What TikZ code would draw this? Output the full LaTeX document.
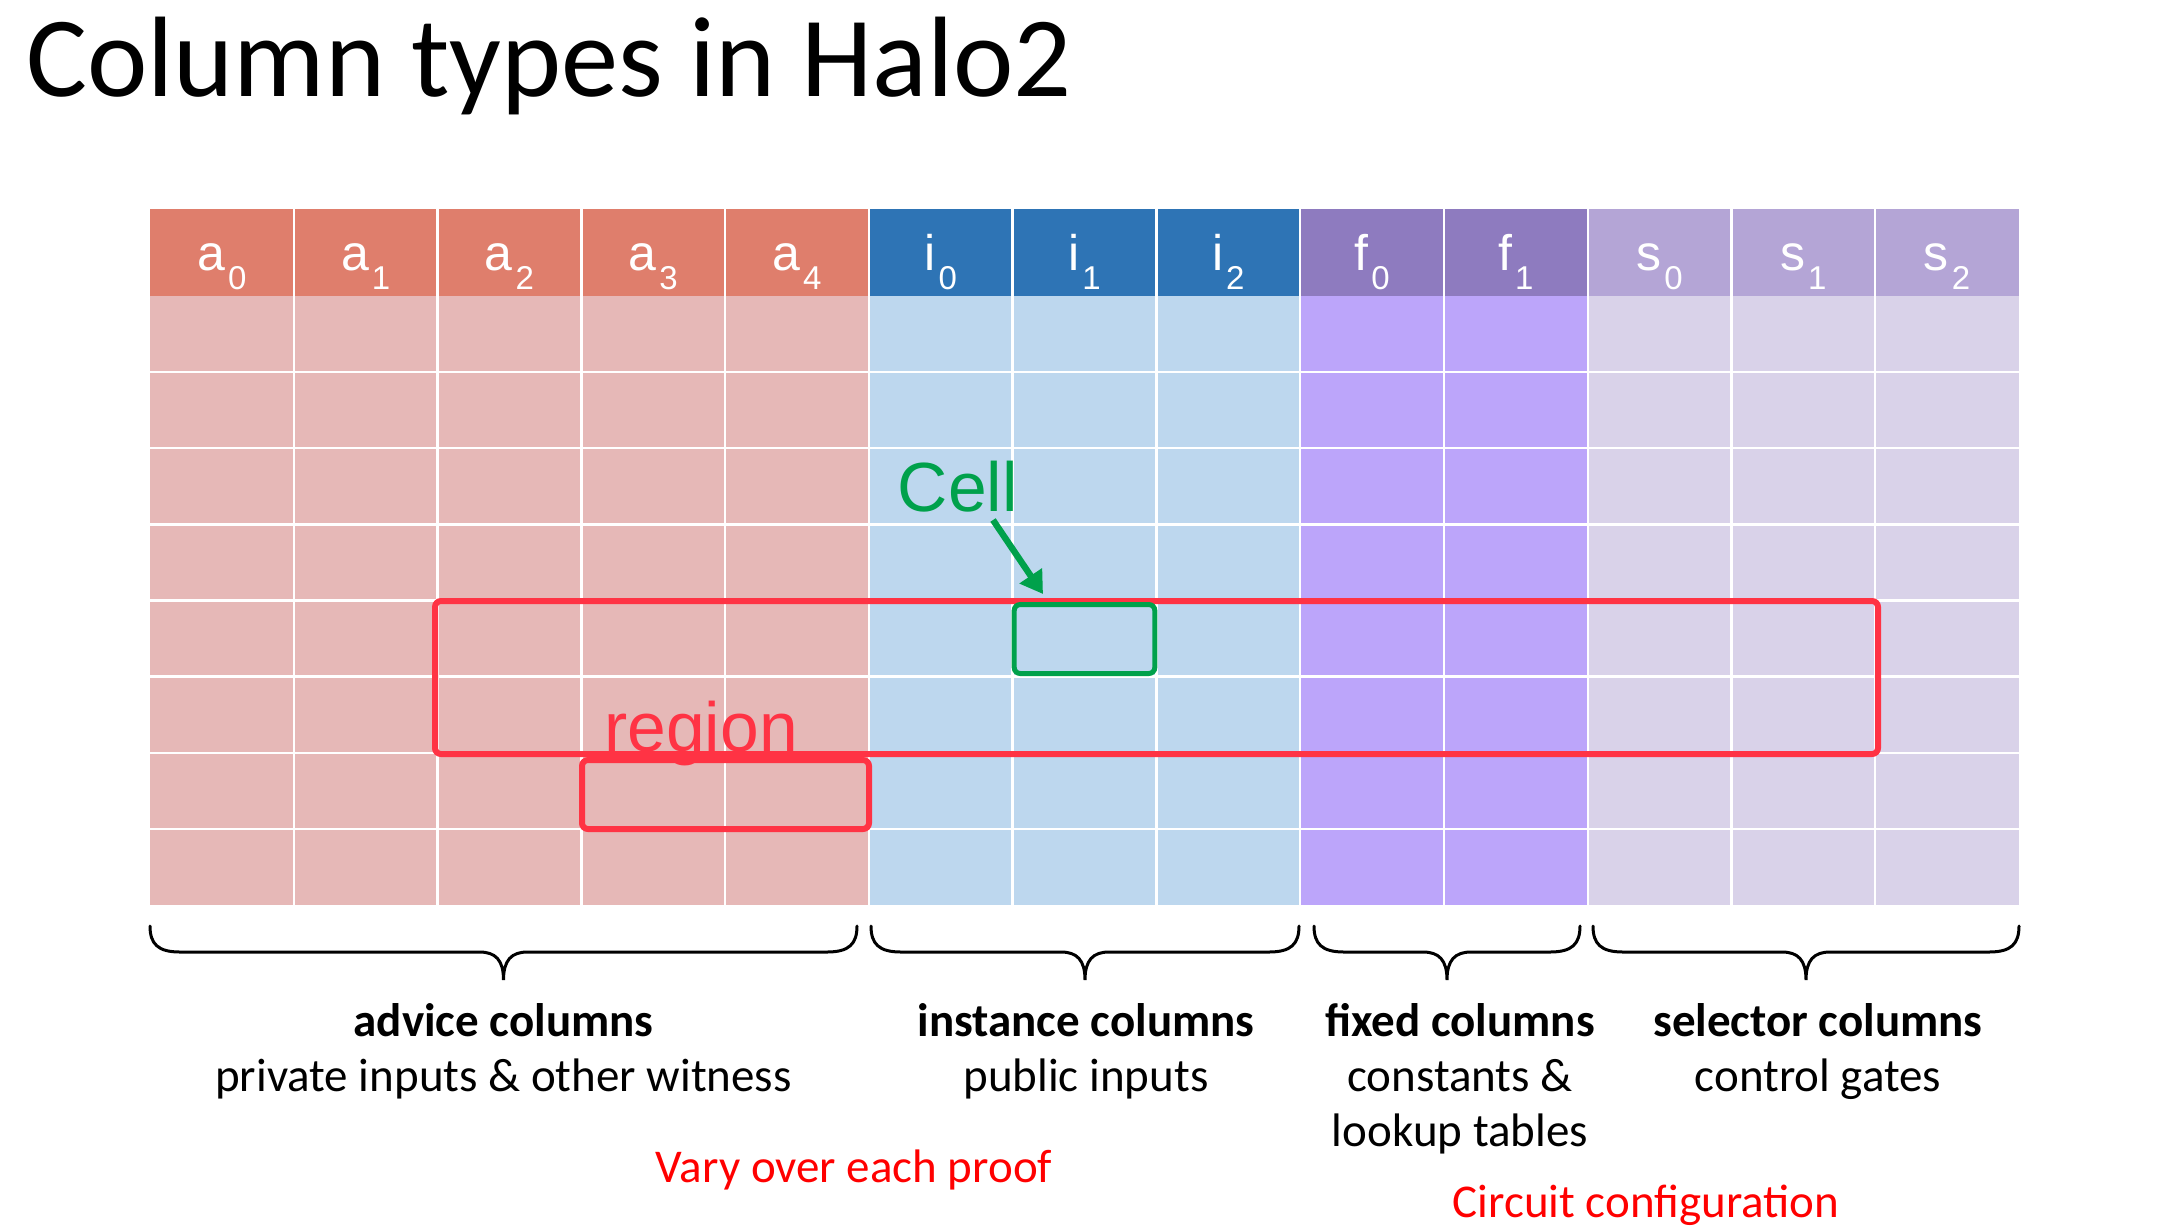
\documentclass[tikz,border=0pt]{standalone}
\usepackage{fontspec}
\setmainfont{Carlito}
\newfontfamily\headfont{Liberation Sans}
\newfontfamily\markfont{Liberation Sans}
\usetikzlibrary{arrows.meta}

\definecolor{advHead}{HTML}{DF7E6C}
\definecolor{advBody}{HTML}{E6B8B7}
\definecolor{insHead}{HTML}{2E74B5}
\definecolor{insBody}{HTML}{BDD7EE}
\definecolor{fixHead}{HTML}{8E7BBF}
\definecolor{fixBody}{HTML}{BCA5FA}
\definecolor{selHead}{HTML}{B4A5D6}
\definecolor{selBody}{HTML}{D9D2E9}
\definecolor{regionRed}{HTML}{FF3344}
\definecolor{cellGreen}{HTML}{00A14B}
\definecolor{noteRed}{HTML}{FF0000}

% column header text: letter with a lowered index
\newcommand\colname[2]{#1\kern1.5pt\raisebox{-9.5pt}{\fontsize{16.5}{16.5}\selectfont #2}}

% curly braces under groups of columns, each given as left/right x
\newcommand\colbrace[1]{%
  \foreach \braceL/\braceR in {#1}{%
    \pgfmathsetmacro\braceM{(\braceL+\braceR)/2}%
    \draw[bracestyle] (\braceL,926) .. controls (\braceL,944) and ({\braceL+8},952) .. ({\braceL+30},952)
      -- ({\braceM-24},952) .. controls ({\braceM-8},952) and (\braceM,960) .. (\braceM,980)
      .. controls (\braceM,960) and ({\braceM+8},952) .. ({\braceM+24},952)
      -- ({\braceR-30},952) .. controls ({\braceR-8},952) and (\braceR,944) .. (\braceR,926);
  }}

\begin{document}
\begin{tikzpicture}[x=0.5pt,y=-0.5pt,
  gridline/.style={white, line width=1.2pt},
  hdrlabel/.style={anchor=base, inner sep=0pt, text=white, font=\headfont\fontsize{25}{25}\selectfont},
  bracestyle/.style={black, line width=1.5pt, line cap=round},
  grouptitle/.style={anchor=base, inner sep=0pt, font=\fontsize{23.5}{27}\selectfont\bfseries},
  groupnote/.style={anchor=base, inner sep=0pt, font=\fontsize{23.5}{27}\selectfont},
  rednote/.style={anchor=base, inner sep=0pt, text=noteRed, font=\fontsize{23.5}{27}\selectfont},
  regionbox/.style={draw=regionRed, line width=3pt, rounded corners=3pt, inner sep=0pt},
  cellbox/.style={draw=cellGreen, line width=2.5pt, rounded corners=3pt, inner sep=0pt},
  marker/.style={anchor=base west, inner sep=0pt, font=\markfont\fontsize{34.8}{36}\selectfont}]

\useasboundingbox (0,0) rectangle (2158,1228);
\fill[white] (0,0) rectangle (2158,1228);

% title
\node[anchor=base west, inner sep=0pt, font=\fontsize{57.2}{60}\selectfont] (title) at (26,96) {Column types in Halo2};

% column groups: headers and bodies
\fill[advHead] (150,209) rectangle (868.85,296);
\fill[insHead] (868.85,209) rectangle (1300.16,296);
\fill[fixHead] (1300.16,209) rectangle (1587.7,296);
\fill[selHead] (1587.7,209) rectangle (2019,296);
\fill[advBody] (150,296) rectangle (868.85,905);
\fill[insBody] (868.85,296) rectangle (1300.16,905);
\fill[fixBody] (1300.16,296) rectangle (1587.7,905);
\fill[selBody] (1587.7,296) rectangle (2019,905);

% white cell separators
\foreach \i in {1,...,12}
  \draw[gridline] ({150+\i*143.77},209) -- ({150+\i*143.77},905);
\foreach \j in {1,...,7}
  \draw[gridline] (150,{296+\j*76.125}) -- (2019,{296+\j*76.125});

% column names
\foreach \l/\s [count=\i from 0] in {a/0,a/1,a/2,a/3,a/4,i/0,i/1,i/2,f/0,f/1,s/0,s/1,s/2}
  \node[hdrlabel] (col\i) at ({150+(\i+0.5)*143.77},270) {\colname{\l}{\s}};

% regions and a single cell
\node[regionbox, minimum width=721.5pt, minimum height=76.5pt] (regionA) at (1156.5,677.5) {};
\node[regionbox, minimum width=143.5pt, minimum height=34.5pt] (regionB) at (725.5,794.5) {};
\node[cellbox, minimum width=70.3pt, minimum height=34.5pt] (cell) at (1084.5,639) {};

\node[marker, text=regionRed] (regionlabel) at (604,751) {region};
\node[marker, text=cellGreen] (celllabel) at (897.5,511) {Cell};

\coordinate (cellTail) at (993,520);
\coordinate (cellTip) at (1043,594);
\draw[cellGreen, line width=3.2pt, -{Triangle[length=11pt,width=13pt]}] (cellTail) -- (cellTip);

% braces under the column groups
\colbrace{150/857, 871/1299, 1314/1580, 1593/2019}

% group descriptions
\node[grouptitle] (advT) at (503.5,1036) {advice columns};
\node[groupnote] (advN) at (503.5,1091) {private inputs \& other witness};
\node[grouptitle] (insT) at (1086,1036) {instance columns};
\node[groupnote] (insN) at (1086,1091) {public inputs};
\node[grouptitle] (fixT) at (1460,1036) {fixed columns};
\node[groupnote] (fixN) at (1460,1091) {constants \&};
\node[groupnote] (fixM) at (1460,1146) {lookup tables};
\node[grouptitle] (selT) at (1818,1036) {selector columns};
\node[groupnote] (selN) at (1818,1091) {control gates};

\node[rednote] (vary) at (854,1182) {Vary over each proof};
\node[rednote] (circuit) at (1646,1217) {Circuit configuration};

\end{tikzpicture}
\end{document}
